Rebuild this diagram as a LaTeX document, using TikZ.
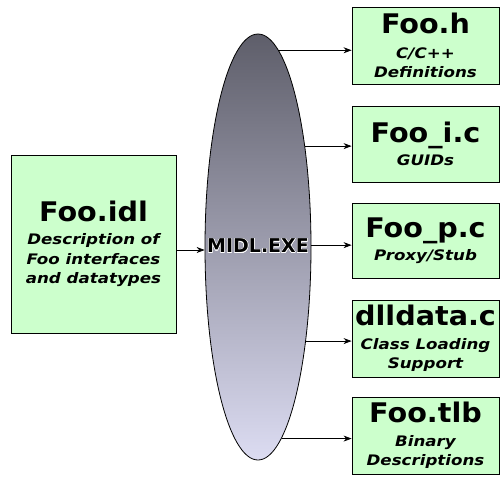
\documentclass[tikz,border=0pt]{standalone}
\usepackage{fontspec}
\setmainfont{DejaVu Sans}
\newfontfamily\subfam[FakeStretch=1.15]{DejaVu Sans}
\newfontfamily\ttlfam[FakeStretch=1.06]{DejaVu Sans}
\usepackage{contour}
\contourlength{0.4pt}
\usetikzlibrary{shapes.geometric,arrows.meta}

\definecolor{boxgreen}{HTML}{CCFFCC}
\definecolor{midltop}{HTML}{5E5E6A}
\definecolor{midlbot}{HTML}{DCDCF2}

\newcommand{\ttl}{\ttlfam\fontsize{27}{27}\selectfont\upshape\bfseries}
\tikzset{
  filebox/.style={draw=black, line width=0.9pt, fill=boxgreen, inner sep=0pt,
    align=center, font=\subfam\fontsize{14.5}{19.5}\selectfont\bfseries\itshape},
  outbox/.style={filebox, minimum width=147pt},
  flow/.style={-{Stealth[length=8pt,width=6pt]}, line width=0.7pt},
}

\begin{document}
\begin{tikzpicture}[x=1pt,y=-1pt]
\useasboundingbox (0,0) rectangle (501,477);

% compiler ellipse
\node (midl) [ellipse, draw=black, line width=0.8pt, top color=midltop, bottom color=midlbot,
  minimum width=106pt, minimum height=426pt, inner sep=0pt] at (258,247) {};
\node (midltext) at (258,246) {\fontsize{19}{19}\selectfont\bfseries\contour{white}{MIDL.EXE}};

% input description
\node (idl) [filebox, minimum width=165pt, minimum height=178pt] at (93.5,244)
  {{\ttl Foo.idl}\\[4pt] Description of\\Foo interfaces\\and datatypes};

% generated files
\node (hdr) [outbox, minimum height=77pt, text depth=-2pt] at (425.5,45.5)
  {{\ttl Foo.h}\\[5pt] C/C++\\Definitions};
\node (guid) [outbox, minimum height=76pt] at (425.5,144)
  {{\ttl Foo\_i.c}\\[4pt] GUIDs};
\node (proxy) [outbox, minimum height=75pt] at (425.5,240.5)
  {{\ttl Foo\_p.c}\\[4pt] Proxy/Stub};
\node (dlldata) [outbox, minimum height=77pt] at (425.5,338.5)
  {{\ttl dlldata.c}\\[4pt] Class Loading\\Support};
\node (tlb) [outbox, minimum height=77pt] at (425.5,435.5)
  {{\ttl Foo.tlb}\\[4pt] Binary\\Descriptions};

% connectors
\draw[flow] (idl.east |- 0,250) -- (midl.west |- 0,250);
\draw[flow] (midl.84.1) -- (midl.84.1 -| hdr.west);
\draw[flow] (midl.65.2) -- (midl.65.2 -| guid.west);
\draw[flow] (midl.2) -- (midl.2 -| proxy.west);
\draw[flow] (midl.-63.5) -- (midl.-63.5 -| dlldata.west);
\draw[flow] (midl.-83.2) -- (midl.-83.2 -| tlb.west);
\end{tikzpicture}
\end{document}
